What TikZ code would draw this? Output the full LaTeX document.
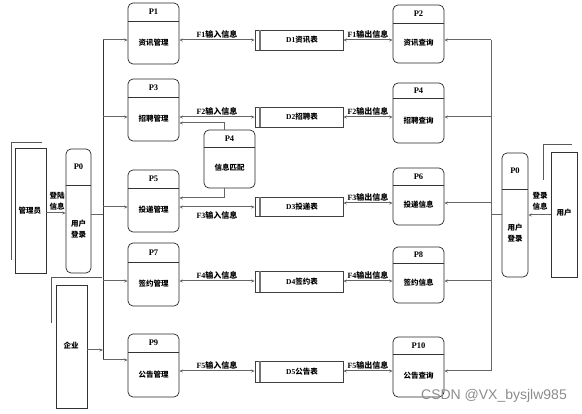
\documentclass[tikz,border=0pt]{standalone}
\usepackage{fontspec}
\setmainfont{Liberation Serif}
\newfontfamily\cjk{Noto Sans CJK SC}
\newfontfamily\wmfont{Liberation Sans}
\usetikzlibrary{arrows.meta,fit}
\tikzset{
  procbox/.style={draw=black!85, line width=0.7pt, rounded corners=5pt, inner sep=0pt},
  hdrline/.style={draw=black!80, line width=0.9pt},
  idtext/.style={font=\bfseries\fontsize{8.5}{9}\selectfont, inner sep=0pt},
  bodytext/.style={font=\cjk\bfseries\fontsize{7.5}{11}\selectfont, inner sep=0pt, align=center},
  storebox/.style={draw=black!75, line width=0.7pt, inner sep=0pt},
  storeline/.style={draw=black!55, line width=1.4pt},
  entbox/.style={draw=black!80, line width=0.7pt, inner sep=0pt},
  shadowline/.style={draw=black!65, line width=0.8pt},
  conn/.style={draw=black!60, line width=1pt},
  arr/.style={conn, -{Stealth[length=3.5pt,width=3pt]}},
  darr/.style={conn, {Stealth[length=3.5pt,width=3pt]}-{Stealth[length=3.5pt,width=3pt]}},
  flowlbl/.style={font=\bfseries\fontsize{8}{9}\selectfont, inner sep=0pt},
}
\newcommand\procnode[8]{%
  \node[procbox, fit={(#2,#3) (#4,#5)}] (#1) {};
  \draw[hdrline] (#2,#6) -- (#4,#6);
  \node[idtext] (#1h) at ({(#2+#4)/2},{(#3+#6)/2}) {#7};
  \node[bodytext] (#1b) at ({(#2+#4)/2},{(#6+#5)/2}) {#8};
}
\newcommand\storenode[6]{%
  \node[storebox, fit={(#2,#3) (#4,#5)}] (#1) {};
  \draw[storeline] ({#2+5},#3) -- ({#2+5},#5);
  \node[bodytext] (#1t) at ({(#2+#4)/2+3},{(#3+#5)/2}) {#6};
}
\newcommand\flabel[2]{{\bfseries #1}{\cjk\bfseries #2}}
\begin{document}
\begin{tikzpicture}[x=1pt,y=-1pt]
\useasboundingbox (0,0) rectangle (582,414);

% process boxes, left column
\procnode{P1}{128}{3}{179}{64}{21}{P1}{资讯管理}
\procnode{P3}{128}{79}{179}{141}{97}{P3}{招聘管理}
\procnode{P5}{128}{170}{179}{232}{188}{P5}{投递管理}
\procnode{P7}{128}{243}{179}{306}{262}{P7}{签约管理}
\procnode{P9}{128}{334}{179}{397}{352}{P9}{公告管理}
% right column
\procnode{P2}{393}{5}{444}{63}{23}{P2}{资讯查询}
\procnode{P4r}{393}{83}{444}{143}{98}{P4}{招聘查询}
\procnode{P6}{393}{168}{444}{225}{185}{P6}{投递信息}
\procnode{P8}{393}{247}{444}{303}{263}{P8}{签约信息}
\procnode{P10}{393}{337}{444}{397}{354}{P10}{公告查询}
% matching
\procnode{P4m}{204}{130}{255}{188}{147}{P4}{信息匹配}
% login processes
\procnode{P0L}{66}{149}{91}{273}{185}{P0}{用户\\登录}
\procnode{P0R}{502}{153}{528}{277}{189}{P0}{用户\\登录}

% data stores
\storenode{D1}{255}{30}{343}{50}{{\normalfont\bfseries D1}资讯表}
\storenode{D2}{255}{107}{343}{127}{{\normalfont\bfseries D2}招聘表}
\storenode{D3}{255}{197}{343}{216}{{\normalfont\bfseries D3}投递表}
\storenode{D4}{255}{271}{343}{292}{{\normalfont\bfseries D4}签约表}
\storenode{D5}{255}{361}{343}{382}{{\normalfont\bfseries D5}公告表}

% entities
\node[entbox, fit={(15,148) (46,273)}] (adm) {};
\node[bodytext] (admt) at (30,211) {管理员};
\draw[shadowline] (11,260) -- (11,142) -- (42,142);
\node[entbox, fit={(551,152) (577,277)}] (usr) {};
\node[bodytext] (usrt) at (564,213) {用户};
\draw[shadowline] (543,180) -- (543,144) -- (572,144);
\node[entbox, fit={(56,285) (87,408)}] (ent) {};
\node[bodytext] (entt) at (71,346) {企业};
\draw[shadowline] (51,323) -- (51,277) -- (102,277);

% trunks
\coordinate (LT) at (103,40);
\coordinate (RT) at (491,40);
\draw[draw=black!80, line width=0.7pt] (LT) -- (LT |- 0,360);
\draw[conn] (RT) -- (RT |- 0,371);

% left trunk to processes
\draw[arr] (LT) -- (P1.west |- LT);
\draw[arr] (LT |- 0,117) -- (P3.west |- 0,117);
\draw[arr] (LT |- 0,207) -- (P5.west |- 0,207);
\draw[arr] (LT |- 0,281) -- (P7.west |- 0,281);
\draw[arr] (LT |- 0,360) -- (P9.west |- 0,360);
\draw[conn] (P0L.east |- 0,215) -- (LT |- 0,215);
\draw[arr] (ent.east |- 0,350) -- (LT |- 0,350);
\draw[arr] (adm.east |- 0,213) -- (P0L.west |- 0,213);
\node[bodytext, align=center] (admlbl) at (57,201) {登陆\\信息};

% right trunk to processes
\draw[arr] (RT) -- (P2.east |- RT);
\draw[arr] (RT |- 0,117) -- (P4r.east |- 0,117);
\draw[arr] (RT |- 0,203) -- (P6.east |- 0,203);
\draw[arr] (RT |- 0,281) -- (P8.east |- 0,281);
\draw[arr] (RT |- 0,371) -- (P10.east |- 0,371);
\draw[conn] (P0R.west |- 0,215) -- (RT |- 0,215);
\draw[arr] (usr.west |- 0,215) -- (P0R.east |- 0,215);
\node[bodytext, align=center] (usrlbl) at (540,201) {登录\\信息};

% flows
\draw[darr] (P1.east |- 0,40) -- (D1.west |- 0,40);
\draw[darr] (D1.east |- 0,40) -- (P2.west |- 0,40);
\draw[darr] (P3.east |- 0,117) -- (D2.west |- 0,117);
\draw[darr] (D2.east |- 0,117) -- (P4r.west |- 0,117);
\draw[darr] (P5.east |- 0,207) -- (D3.west |- 0,207);
\draw[darr] (D3.east |- 0,203) -- (P6.west |- 0,203);
\draw[darr] (P7.east |- 0,281) -- (D4.west |- 0,281);
\draw[darr] (D4.east |- 0,281) -- (P8.west |- 0,281);
\draw[darr] (P9.east |- 0,371) -- (D5.west |- 0,371);
\draw[darr] (D5.east |- 0,371) -- (P10.west |- 0,371);

\node[flowlbl] (f1i) at (217,34) {\flabel{F1}{输入信息}};
\node[flowlbl] (f1o) at (368,34) {\flabel{F1}{输出信息}};
\node[flowlbl] (f2i) at (217,111) {\flabel{F2}{输入信息}};
\node[flowlbl] (f2o) at (368,111) {\flabel{F2}{输出信息}};
\node[flowlbl] (f3i) at (217,215) {\flabel{F3}{输入信息}};
\node[flowlbl] (f3o) at (368,197) {\flabel{F3}{输出信息}};
\node[flowlbl] (f4i) at (217,275) {\flabel{F4}{输入信息}};
\node[flowlbl] (f4o) at (368,275) {\flabel{F4}{输出信息}};
\node[flowlbl] (f5i) at (217,365) {\flabel{F5}{输入信息}};
\node[flowlbl] (f5o) at (368,365) {\flabel{F5}{输出信息}};

% matching connectors
\draw[arr] (P4m.north -| 224,0) |- (P3.east |- 0,123);
\draw[arr] (P4m.south -| 224,0) |- (P5.east |- 0,198);

% watermark
\node[font=\wmfont\fontsize{14}{16}\selectfont, text=black!45, inner sep=0pt] (wm) at (494,396) {CSDN @VX\_bysjlw985};
\end{tikzpicture}
\end{document}
